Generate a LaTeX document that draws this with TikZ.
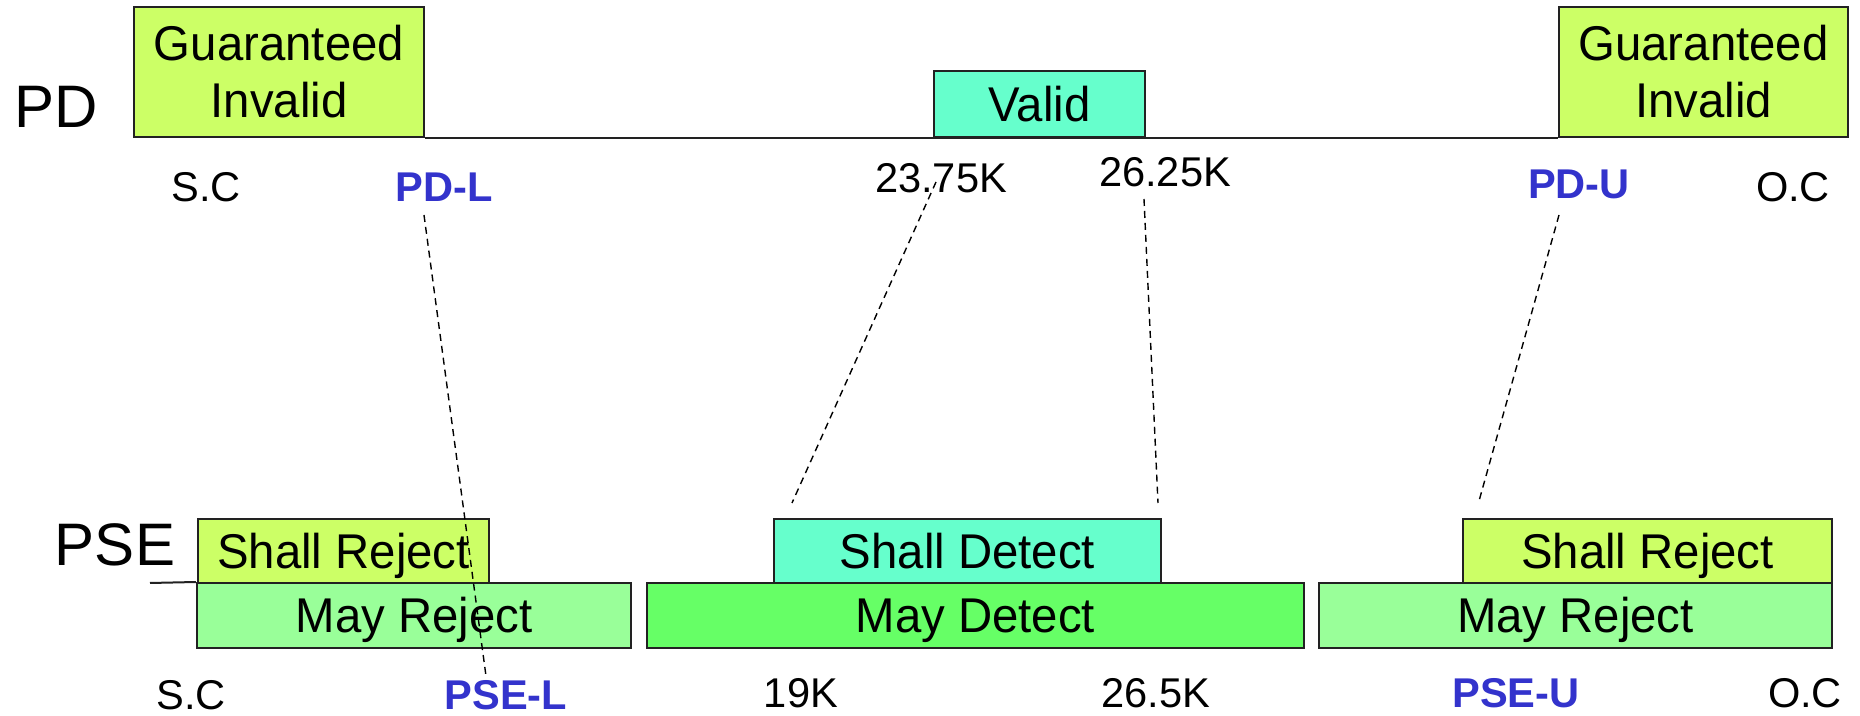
\documentclass[tikz,border=0pt]{standalone}
\usepackage{fontspec}
\setmainfont{Liberation Sans}
\newfontfamily\boxfont[FakeStretch=0.97]{Liberation Sans}
\definecolor{cReject}{HTML}{CCFF66}
\definecolor{cValid}{HTML}{66FFCC}
\definecolor{cMayRej}{HTML}{99FF99}
\definecolor{cMayDet}{HTML}{66FF66}
\definecolor{cBlue}{HTML}{3333CC}
\definecolor{cEdge}{HTML}{222222}
\begin{document}
\begin{tikzpicture}[x=0.5pt,y=-0.5pt,
  box/.style={draw=cEdge,line width=1pt,inner sep=0pt,align=center,
    font=\boxfont\fontsize{24.4}{28.5}\selectfont},
  oneline/.style={text height=17.4pt,text depth=0pt},
  axislbl/.style={font=\fontsize{30}{36}\selectfont,anchor=base},
  val/.style={font=\fontsize{20.8}{25}\selectfont,anchor=base},
  lim/.style={font=\fontsize{20.8}{25}\selectfont\bfseries,text=cBlue,anchor=base},
  map/.style={draw=black,line width=0.7pt,dash pattern=on 3.5pt off 2.5pt},
  axisline/.style={draw=cEdge,line width=1pt}]
\useasboundingbox (0,0) rectangle (1860,716);

% PD row
\node[axislbl] (pd) at (56,128) {PD};
\node[box,fill=cReject,minimum width=145pt,minimum height=65pt] (gi1) at (279,72) {Guaranteed\\Invalid};
\node[box,fill=cReject,minimum width=144.5pt,minimum height=65pt] (gi2) at (1703.5,72) {Guaranteed\\Invalid};
\draw[axisline] (gi1.south east) -- (gi2.south west);
\node[box,oneline,fill=cValid,minimum width=105.5pt,minimum height=33pt] (valid) at (1039.5,104) {Valid};

\node[val] (sc1) at (206,202) {S.C};
\node[lim] (pdl) at (444,202) {PD-L};
\node[val] (v2375) at (941,193) {23.75K};
\node[val] (v2625) at (1165,187) {26.25K};
\node[lim] (pdu) at (1579,199) {PD-U};
\node[val] (oc1) at (1793,202) {O.C};

% PSE row
\node[axislbl] (pse) at (115,566) {PSE};
\node[box,oneline,fill=cMayRej,minimum width=217pt,minimum height=32.5pt] (mr1) at (414,615.5) {May Reject};
\node[box,oneline,fill=cMayDet,minimum width=328.5pt,minimum height=32.5pt] (md) at (975.5,615.5) {May Detect};
\node[box,oneline,fill=cMayRej,minimum width=256.5pt,minimum height=32.5pt] (mr2) at (1575.5,615.5) {May Reject};
\node[box,oneline,fill=cReject,minimum width=145.5pt,minimum height=32pt] (sr1) at (343.5,551) {Shall Reject};
\node[box,oneline,fill=cValid,minimum width=193.5pt,minimum height=32pt] (sd) at (967.5,551) {Shall Detect};
\node[box,oneline,fill=cReject,minimum width=184.5pt,minimum height=32pt] (sr2) at (1647.5,551) {Shall Reject};
\coordinate (pseStart) at (150,583);
\draw[axisline] (pseStart) -- (mr1.north west);

\node[val] (sc2) at (191,710) {S.C};
\node[lim] (psel) at (506,710) {PSE-L};
\node[val] (v19) at (801,708) {19K};
\node[val] (v265) at (1156,708) {26.5K};
\node[lim] (pseu) at (1516,708) {PSE-U};
\node[val] (oc2) at (1805,708) {O.C};

% mapping lines
\coordinate (a1) at (424,215); \coordinate (a2) at (486,676);
\coordinate (b1) at (936,182); \coordinate (b2) at (792,503);
\coordinate (c1) at (1144,199); \coordinate (c2) at (1158,503);
\coordinate (d1) at (1559,215); \coordinate (d2) at (1479,501);
\draw[map] (a1) -- (a2);
\draw[map] (b1) -- (b2);
\draw[map] (c1) -- (c2);
\draw[map] (d1) -- (d2);
\end{tikzpicture}
\end{document}
